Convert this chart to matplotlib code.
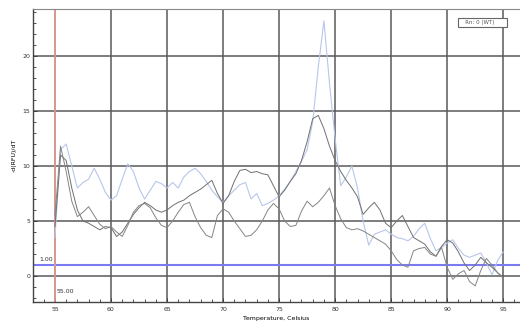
import numpy as np
import matplotlib
matplotlib.use('Agg')
import matplotlib.pyplot as plt

# temperature steps (Celsius), 0.5 degree apart
temps = np.arange(55.0, 95.01, 0.5)

# light blue trace (big melt peak)
blue = [3.5, 11.5, 12.0, 10.0, 8.0, 8.5, 8.8, 9.8, 8.8, 7.6,
        6.9, 7.3, 8.8, 10.2, 9.5, 8.0, 7.0, 7.8, 8.6, 8.4,
        8.0, 8.5, 8.0, 9.0, 9.5, 9.8, 9.3, 8.6, 7.8, 7.2,
        6.7, 7.3, 7.8, 8.3, 8.5, 7.0, 7.5, 6.4, 6.6, 6.9,
        7.3, 7.9, 8.6, 9.5, 10.4, 11.5, 14.0, 19.0, 23.2, 17.5,
        12.5, 8.2, 9.0, 10.0, 8.0, 5.0, 2.8, 3.8, 4.0, 4.2,
        3.8, 3.5, 3.4, 3.2, 3.6, 4.3, 4.8, 3.4, 2.3, 2.6,
        3.0, 3.3, 2.5, 1.9, 1.7, 1.9, 2.1, 1.2, 0.1, 1.4,
        2.2]

# upper gray trace
gray_a = [4.5, 11.0, 10.5, 8.0, 6.0, 5.0, 4.8, 4.5, 4.2, 4.5,
          4.4, 3.6, 4.0, 4.8, 5.6, 6.2, 6.7, 6.4, 6.0, 5.8,
          6.0, 6.4, 6.7, 6.9, 7.3, 7.6, 7.9, 8.3, 8.7, 7.5,
          6.6, 7.3, 8.6, 9.6, 9.7, 9.4, 9.5, 9.3, 9.2, 8.2,
          7.2, 7.8, 8.6, 9.3, 10.5, 12.2, 14.3, 14.6, 13.4, 11.8,
          10.5, 9.5, 8.7, 8.0, 7.2, 5.6, 6.2, 6.7, 6.0, 4.8,
          4.4, 5.0, 5.5, 4.5, 3.5, 3.2, 2.9, 2.2, 1.8, 2.7,
          3.3, 3.0, 2.2, 1.2, 0.5, 1.0, 1.7, 1.2, 0.8, 0.3,
          -0.1]

# lower gray trace
gray_b = [5.5, 11.8, 9.5, 6.8, 5.4, 5.8, 6.3, 5.5, 4.7, 4.3,
          4.5, 4.0, 3.6, 4.6, 5.8, 6.4, 6.6, 6.2, 5.3, 4.6,
          4.4, 5.0, 5.8, 6.5, 6.7, 5.4, 4.4, 3.7, 3.5, 5.5,
          6.1, 5.8, 5.0, 4.3, 3.6, 3.7, 4.2, 5.0, 6.0, 6.6,
          6.1, 5.0, 4.5, 4.6, 5.9, 6.8, 6.3, 6.7, 7.3, 8.0,
          6.4, 5.2, 4.4, 4.2, 4.3, 4.1, 3.8, 3.5, 3.2, 2.9,
          2.3, 1.5, 1.0, 0.8, 2.3, 2.5, 2.6, 2.0, 1.8, 2.6,
          0.8, -0.3, 0.2, 0.5, -0.5, -0.9, 0.5, 1.6, 1.0, 0.3,
          -0.2]

threshold = 1.0
start_temp = 55.0
xticks = [55, 60, 65, 70, 75, 80, 85, 90, 95]
yticks = [0, 5, 10, 15, 20]


fig = plt.figure(figsize=(5.2, 3.29), dpi=100)
ax = fig.add_axes([33 / 520, 1 - 302 / 329, 1 - 33 / 520, (302 - 9) / 329])

ax.set_xlim(53.04, 96.5)
ax.set_ylim(-2.36, 24.27)

# grid
for xv in xticks:
    ax.axvline(xv, color='#5a5a5a', linewidth=1.1, zorder=1)
for yv in yticks:
    ax.axhline(yv, color='#5a5a5a', linewidth=1.1, zorder=1)

ax.plot(temps, blue, color='#b8c6ea', linewidth=0.8, zorder=3)
ax.plot(temps, gray_a, color='#707070', linewidth=0.7, zorder=3)
ax.plot(temps, gray_b, color='#858585', linewidth=0.7, zorder=3)

# threshold + start markers
ax.axhline(threshold, color='#7a7af2', linewidth=1.5, zorder=2)
ax.axvline(start_temp, color='#f4a092', linewidth=1.1, zorder=2)
ax.text(53.6, threshold + 0.35, '%.2f' % threshold, fontsize=4.5, color='#333333')
ax.text(start_temp + 0.1, -1.5, '%.2f' % start_temp, fontsize=4.5, color='#333333')

ax.set_xticks(xticks)
ax.set_yticks(yticks)
ax.set_xticks(np.arange(54, 97, 1), minor=True)
ax.set_yticks(np.arange(-2, 25, 1), minor=True)
ax.tick_params(which='both', direction='in', labelsize=4.5, colors='#333333')
ax.tick_params(which='major', length=3, width=0.6)
ax.tick_params(which='minor', length=2, width=0.6)
ax.tick_params(axis='y', pad=2)

for side in ['left', 'bottom']:
    ax.spines[side].set_color('#444444')
    ax.spines[side].set_linewidth(1.0)
ax.spines['top'].set_color('#888888')
ax.spines['top'].set_linewidth(0.8)
ax.spines['right'].set_visible(False)

ax.set_xlabel('Temperature, Celsius', fontsize=4.5, labelpad=3)
ax.set_ylabel('-d(RFU)/dT', fontsize=4.5, labelpad=4)

ax.text(0.877, 0.955, '   Rn: 0 (WT)      ', transform=ax.transAxes, fontsize=4,
        color='#555555', va='center',
        bbox=dict(boxstyle='square,pad=0.35', fc='white', ec='#666666', lw=0.8))

fig.savefig('out.png', dpi=100)
